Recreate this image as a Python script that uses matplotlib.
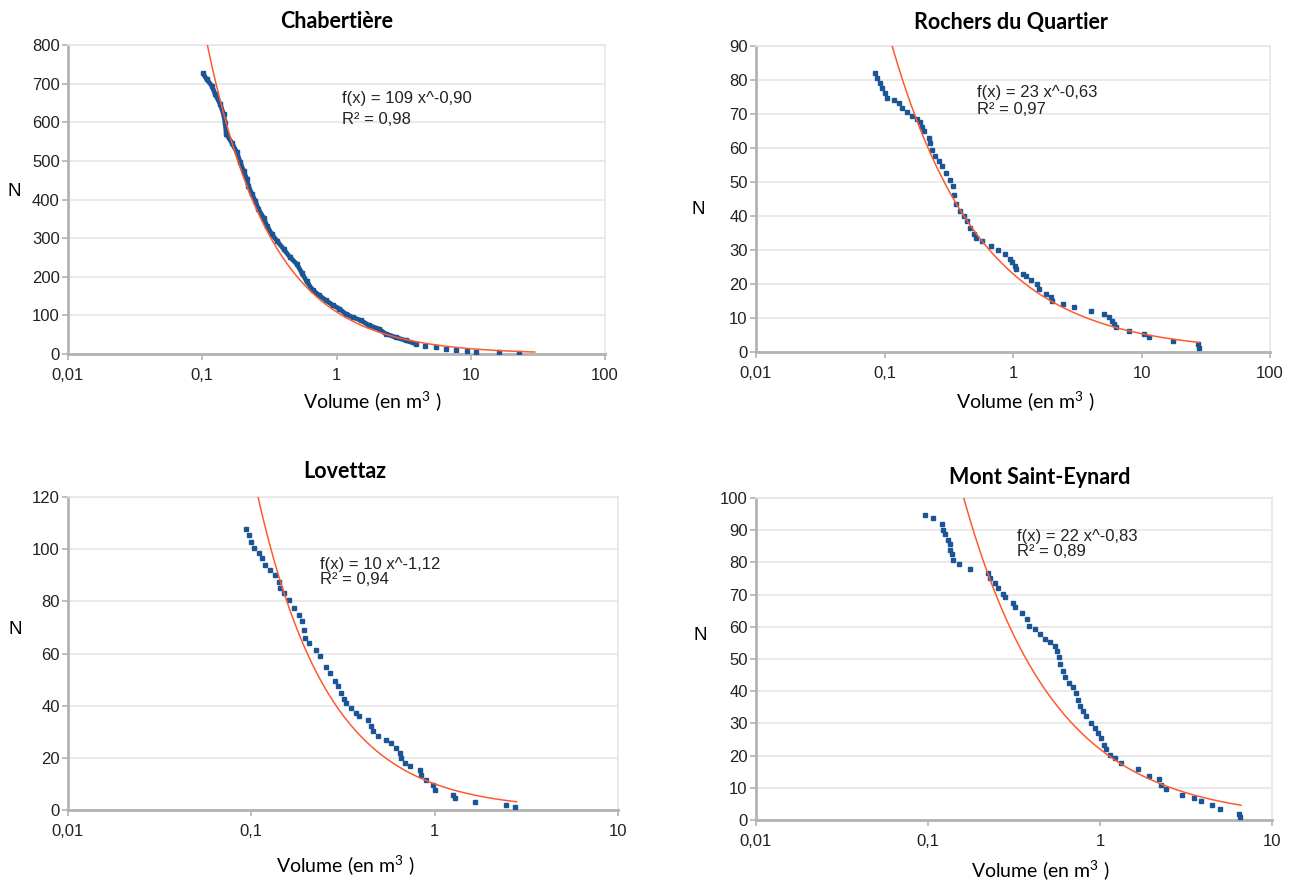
import matplotlib
matplotlib.use("Agg")
import matplotlib.pyplot as plt
import numpy as np

plt.rcParams["font.family"] = ["Liberation Sans", "DejaVu Sans"]
plt.rcParams["mathtext.fontset"] = "custom"
plt.rcParams["mathtext.rm"] = "Lato"
plt.rcParams["mathtext.it"] = "Lato"

# Chabertière: volume (m3) vs cumulated number N
cha_v = [0.101, 0.108, 0.118, 0.125, 0.136, 0.144, 0.148, 0.151, 0.166, 0.181,
         0.192, 0.203, 0.215, 0.221, 0.234, 0.248, 0.262, 0.286, 0.303, 0.330,
         0.360, 0.403, 0.452, 0.506, 0.55, 0.60, 0.663, 0.743, 0.833, 0.934,
         1.05, 1.17, 1.32, 1.52, 1.75, 2.07, 2.33, 2.77, 3.28, 3.9,
         4.6, 5.5, 6.5, 7.7, 9.4, 10.9, 16.2, 22.9]
cha_n = [727, 711, 694, 672, 647, 621, 599, 569, 547, 522,
         496, 474, 453, 435, 414, 397, 375, 353, 332, 310,
         293, 272, 250, 233, 211, 188, 166, 152, 139, 127,
         117, 104, 95, 87, 74, 65, 52, 43, 35, 26,
         22, 17, 13, 11, 9, 6, 4, 2]

# Rochers du Quartier
rq_v = [0.085, 0.088, 0.092, 0.096, 0.100, 0.104, 0.118, 0.129, 0.137, 0.150,
        0.164, 0.179, 0.190, 0.196, 0.202, 0.221, 0.227, 0.234, 0.249, 0.264,
        0.280, 0.302, 0.325, 0.341, 0.345, 0.361, 0.384, 0.412, 0.438, 0.464,
        0.493, 0.515, 0.57, 0.68, 0.77, 0.87, 0.94, 0.99, 1.03, 1.06,
        1.2, 1.27, 1.39, 1.54, 1.58, 1.81, 1.98, 2.0, 2.44, 2.97,
        4.05, 5.13, 5.6, 5.88, 6.07, 6.3, 8.0, 10.5, 11.5, 17.7, 27.5, 27.9]
rq_n = [82, 80.5, 79, 77.6, 76.1, 74.8, 74.1, 73.2, 71.9, 70.5,
        69.3, 68.5, 67.6, 66.3, 64.9, 62.9, 61.5, 59.5, 57.6, 56.1,
        54.6, 52.7, 50.7, 48.8, 46.3, 43.4, 41.5, 40, 38.5, 36.6,
        34.8, 33.4, 32.5, 31.2, 30, 28.8, 27.3, 26.5, 25.3, 24.3,
        23, 22.3, 21.3, 19.9, 18.4, 17.1, 16.1, 15.1, 14, 13.2,
        12.2, 11.2, 10.2, 9.2, 8.3, 7.3, 6.1, 5.3, 4.3, 3.1, 2.4, 1.2]

# Lovettaz
lov_v = [0.093, 0.097, 0.099, 0.103, 0.110, 0.114, 0.119, 0.127, 0.135, 0.141,
         0.144, 0.150, 0.160, 0.170, 0.181, 0.189, 0.193, 0.197, 0.206, 0.224,
         0.238, 0.254, 0.270, 0.285, 0.298, 0.310, 0.320, 0.329, 0.350, 0.373,
         0.389, 0.432, 0.449, 0.46, 0.490, 0.544, 0.58, 0.617, 0.644, 0.657,
         0.686, 0.730, 0.828, 0.845, 0.900, 0.979, 1.0, 1.26, 1.29, 1.65,
         2.46, 2.74]
lov_n = [107.7, 105.5, 102.9, 100.4, 98.5, 96.6, 94, 92.1, 90.2, 87.6,
         85.1, 83.1, 80.6, 77.4, 74.8, 72.3, 69.1, 65.9, 64, 61.4,
         58.9, 55, 52.5, 49.5, 47.5, 45, 42.5, 41, 39.1, 37.2,
         35.9, 34.6, 32.1, 30.1, 28.2, 26.9, 25.6, 23.7, 21.8, 19.9,
         17.9, 16.7, 15.4, 13.5, 11.5, 9.6, 7.7, 5.8, 4.5, 3.2,
         1.9, 1]

# Mont Saint-Eynard
mse_v = [0.096, 0.107, 0.120, 0.123, 0.126, 0.131, 0.134, 0.135, 0.137, 0.140,
         0.152, 0.175, 0.224, 0.229, 0.245, 0.256, 0.274, 0.280, 0.313, 0.320,
         0.350, 0.375, 0.384, 0.419, 0.449, 0.478, 0.511, 0.547, 0.560, 0.574,
         0.585, 0.612, 0.625, 0.66, 0.697, 0.728, 0.745, 0.762, 0.796, 0.833,
         0.89, 0.931, 0.973, 1.02, 1.06, 1.09, 1.14, 1.22, 1.33, 1.66,
         1.93, 2.2, 2.27, 2.43, 3.01, 3.5, 3.88, 4.5, 5.0, 6.43, 6.54]
mse_n = [94.8, 93.8, 92, 90.2, 88.7, 87.1, 85.6, 84, 82.5, 80.9,
         79.4, 77.8, 76.8, 75.3, 73.7, 72.2, 70.1, 69.1, 67.5, 66,
         64.4, 62.4, 60.3, 59.3, 57.7, 56.2, 55.2, 54.1, 52.6, 50.5,
         48.5, 46.4, 44.3, 42.5, 41.4, 39.4, 37.3, 35.3, 33.7, 32.2,
         30.1, 28.6, 27, 25.5, 23.4, 21.9, 20.3, 19.3, 17.7, 15.7,
         13.8, 12.8, 11, 9.5, 7.9, 6.9, 5.9, 4.8, 3.3, 1.8, 1]

# power fits f(x) = a x^b
fit_a = [109, 23, 10, 22]
fit_b = [-0.90, -0.63, -1.12, -0.83]
fit_r2 = ["0,98", "0,97", "0,94", "0,89"]
fit_end = [30, 27.9, 2.8, 6.6]

titles = ["Chabertière", "Rochers du Quartier", "Lovettaz", "Mont Saint-Eynard"]
ymax = [800, 90, 120, 100]
ystep = [100, 10, 20, 10]
xmax = [100, 100, 10, 10]

W, H = 1304, 884
BLUE = "#1c5596"
ORANGE = "#ff5a2e"
GRID = "#e6e6e6"
AXIS = "#b3b3b3"
COND = ["Lato", "DejaVu Sans"]


def fx(px):
    return px / W


def fy(py):
    return 1 - py / H


def draw_panel(fig, box, i, vols, ns, title_xy, xlab_xy, n_xy, ann_xy, line_part=False):
    left, top, right, bottom = box
    ax = fig.add_axes([fx(left), fy(bottom), fx(right - left), (bottom - top) / H])
    ax.set_xscale("log")
    ax.set_xlim(0.01, xmax[i])
    ax.set_ylim(0, ymax[i])

    ticks = [0.01, 0.1, 1, 10, 100]
    ticks = [t for t in ticks if t <= xmax[i]]
    ax.set_xticks(ticks)
    ax.set_xticklabels([("%g" % t).replace(".", ",") for t in ticks])
    ax.xaxis.set_minor_locator(matplotlib.ticker.NullLocator())
    ax.set_yticks(np.arange(0, ymax[i] + 1, ystep[i]))

    ax.grid(axis="y", color=GRID, lw=1.2)
    ax.set_axisbelow(True)
    for s in ["top", "right"]:
        ax.spines[s].set_color(GRID)
        ax.spines[s].set_linewidth(1.2)
    for s in ["left", "bottom"]:
        ax.spines[s].set_color(AXIS)
        ax.spines[s].set_linewidth(2)
    ax.tick_params(axis="both", colors=AXIS, width=1.2, length=4, labelsize=12,
                   labelcolor="#222222")
    ax.tick_params(axis="x", pad=6)
    ax.tick_params(axis="y", pad=2)

    if line_part:
        # dense series: the points merge into a thick line
        ax.plot(vols[:-8], ns[:-8], color=BLUE, lw=3.4, solid_capstyle="butt", zorder=3)
        ax.plot(vols, ns, ls="none", marker="s", ms=2.6, color=BLUE, mec=BLUE, zorder=3)
    else:
        ax.plot(vols, ns, ls="none", marker="s", ms=3.4, color=BLUE, mec=BLUE, zorder=3)

    xs = np.logspace(np.log10(0.05), np.log10(fit_end[i]), 300)
    ax.plot(xs, fit_a[i] * xs ** fit_b[i], color=ORANGE, lw=1.1, zorder=4)

    fig.text(fx(title_xy[0]), fy(title_xy[1]), titles[i], ha="center", va="center",
             fontsize=15.5, fontweight="bold", family=COND)
    fig.text(fx(xlab_xy[0]), fy(xlab_xy[1]), r"Volume (en m$^{3}$ )", ha="center",
             va="center", fontsize=14, family=COND)
    fig.text(fx(n_xy[0]), fy(n_xy[1]), "N", ha="center", va="center", fontsize=13.5)
    eq = "f(x) = %d x^%s" % (fit_a[i], ("%.2f" % fit_b[i]).replace(".", ","))
    fig.text(fx(ann_xy[0]), fy(ann_xy[1]), eq, ha="left", va="center",
             fontsize=12, color="#222222")
    fig.text(fx(ann_xy[0]), fy(ann_xy[2]), "R² = " + fit_r2[i], ha="left", va="center",
             fontsize=12, color="#222222")
    return ax


fig = plt.figure(figsize=(W / 100, H / 100), dpi=100)

draw_panel(fig, (68, 45, 605, 354), 0, cha_v, cha_n, (337, 22), (372, 401), (14, 191),
           (342, 98, 120), line_part=True)
draw_panel(fig, (756, 46, 1270, 352), 1, rq_v, rq_n, (1011, 22), (1025, 401), (698, 210),
           (977, 92, 110))
draw_panel(fig, (68, 497, 618, 810), 2, lov_v, lov_n, (345, 472), (345, 865), (15, 630),
           (320, 565, 580))
draw_panel(fig, (756, 498, 1272, 820), 3, mse_v, mse_n, (1040, 478), (1040, 870), (700, 636),
           (1017, 537, 551))

fig.savefig("out.png", dpi=100)
